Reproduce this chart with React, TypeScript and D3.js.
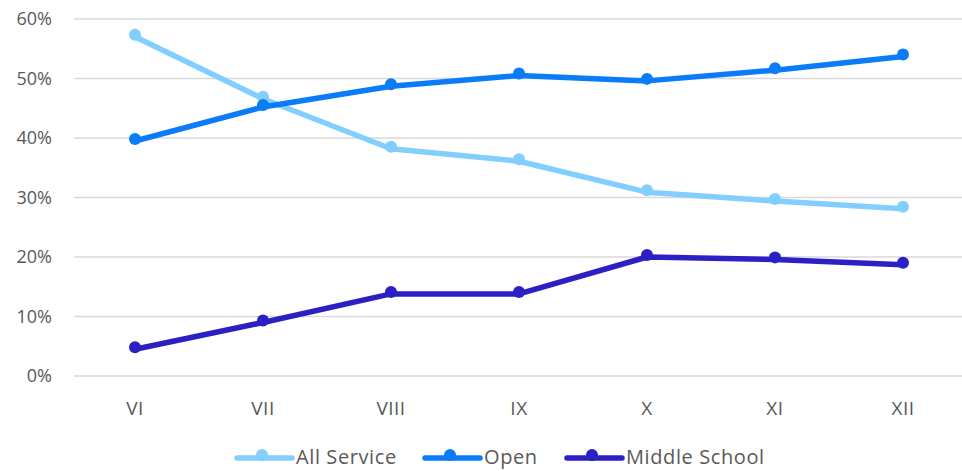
import * as d3 from "d3";
import React from "react";

const grades = ["VI", "VII", "VIII", "IX", "X", "XI", "XII"];
const allService = [0.57, 0.466, 0.382, 0.361, 0.309, 0.294, 0.281];
const open = [0.395, 0.452, 0.487, 0.505, 0.496, 0.514, 0.537];
const middleSchool = [0.045, 0.09, 0.138, 0.138, 0.2, 0.196, 0.187];
const yTicks = [0, 0.1, 0.2, 0.3, 0.4, 0.5, 0.6];

const series = [
  { name: "All Service", values: allService, color: "#82CEFF" },
  { name: "Open", values: open, color: "#0A7CF7" },
  { name: "Middle School", values: middleSchool, color: "#2A20C3" },
];

export default function App() {
  const width = 962,
    height = 471;
  const font = "'Open Sans', 'Liberation Sans', sans-serif";

  const x = d3.scaleBand().domain(grades).range([71, 967]);
  const y = d3.scaleLinear().domain([0, 0.6]).range([376, 19]);
  const cx = (g: string) => (x(g) as number) + x.bandwidth() / 2;

  const line = d3
    .line<number>()
    .x((_, i) => cx(grades[i]))
    .y((d) => y(d));

  // legend item left edges
  const legendX = [237, 425, 567];

  return (
    <svg
      width={width}
      height={height}
      style={{ position: "absolute", left: 0, top: 0, background: "#fff" }}
    >
      {/* gridlines */}
      {yTicks.map((t) => (
        <line
          key={t}
          x1={74}
          x2={962}
          y1={y(t)}
          y2={y(t)}
          stroke="#D9D9D9"
          strokeWidth={1.5}
        />
      ))}
      {/* y labels */}
      {yTicks.map((t) => (
        <text
          key={"l" + t}
          x={52}
          y={y(t) + 6}
          textAnchor="end"
          fontFamily={font}
          fontSize={18}
          fill="#595959"
        >
          {d3.format(".0%")(t)}
        </text>
      ))}
      {/* x labels */}
      {grades.map((g) => (
        <text
          key={g}
          x={cx(g)}
          y={415}
          textAnchor="middle"
          fontFamily={font}
          fontSize={19}
          letterSpacing={0.5}
          fill="#595959"
        >
          {g}
        </text>
      ))}
      {/* series */}
      {series.map((s) => (
        <g key={s.name}>
          <path
            d={line(s.values) || ""}
            fill="none"
            stroke={s.color}
            strokeWidth={5.5}
            strokeLinejoin="round"
            strokeLinecap="round"
          />
          {s.values.map((v, i) => (
            <circle
              key={i}
              cx={cx(grades[i])}
              cy={y(v) - 2}
              r={6}
              fill={s.color}
            />
          ))}
        </g>
      ))}
      {/* legend */}
      {series.map((s, i) => (
        <g key={"lg" + s.name} transform={`translate(${legendX[i]},458)`}>
          <line
            x1={0}
            x2={55}
            y1={0}
            y2={0}
            stroke={s.color}
            strokeWidth={5.5}
            strokeLinecap="round"
          />
          <circle cx={25} cy={-3} r={6} fill={s.color} />
          <text
            x={59}
            y={6}
            fontFamily={font}
            fontSize={20}
            letterSpacing={0.6}
            fill="#595959"
          >
            {s.name}
          </text>
        </g>
      ))}
    </svg>
  );
}
